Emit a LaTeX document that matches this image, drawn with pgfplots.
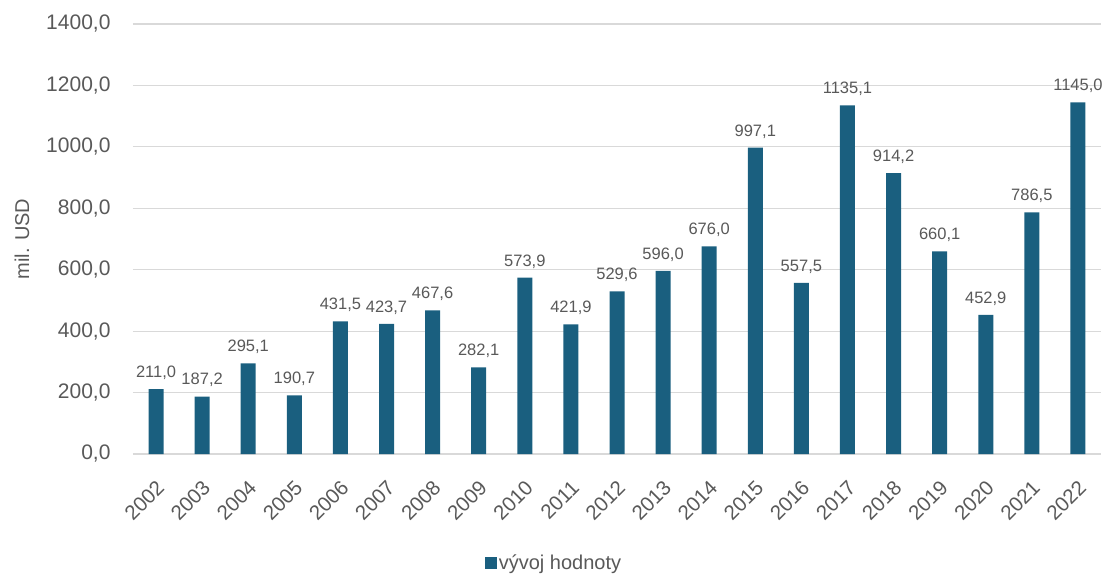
\documentclass[border=0pt]{standalone}
\usepackage{pgfplots}
\pgfplotsset{compat=1.18}
\usepackage{fontspec}
\setmainfont{Liberation Sans}
\definecolor{barc}{HTML}{1A5F7F}
\definecolor{txt}{HTML}{595959}
\definecolor{grd}{HTML}{D9D9D9}
\begin{document}
\begin{tikzpicture}
\useasboundingbox (0,0) rectangle (1106pt,574pt);
\begin{axis}[
  at={(133pt,120pt)}, anchor=south west,
  scale only axis, width=968pt, height=430pt,
  ymin=0, ymax=1400, ytick={0,200,...,1400},
  xmin=-0.5, xmax=20.5,
  xtick={0,...,20},
  xticklabels={2002,2003,2004,2005,2006,2007,2008,2009,2010,2011,2012,2013,2014,2015,2016,2017,2018,2019,2020,2021,2022},
  x tick label style={rotate=45, anchor=north east, font=\fontsize{20.5}{22}\selectfont, text=txt, inner sep=1pt, yshift=-16pt, xshift=-17pt},
  /pgf/number format/use comma,
  /pgf/number format/fixed,
  /pgf/number format/fixed zerofill,
  /pgf/number format/precision=1,
  /pgf/number format/1000 sep={},
  /pgf/number format/assume math mode=true,
  y tick label style={font=\fontsize{21}{23}\selectfont, text=txt, xshift=-19pt},
  axis line style={draw=none},
  major tick length=0pt,
  ymajorgrids, grid style={grd, line width=1.2pt},
  ybar, bar width=15pt,
  ylabel={mil. USD},
  every axis y label/.style={at={(-111pt,215pt)}, rotate=90, anchor=center, font=\fontsize{20}{22}\selectfont, text=txt},
  nodes near coords,
  nodes near coords style={font=\fontsize{16.5}{18}\selectfont, text=txt},
  every node near coord/.append style={yshift=6pt},
  legend style={at={(421pt,-109pt)}, anchor=center, draw=none, font=\fontsize{20}{22}\selectfont, text=txt},
  legend image code/.code={\fill[barc] (0pt,-6pt) rectangle (12pt,6pt);},
]
\addplot[fill=barc, draw=none] coordinates {
(0,211.0) (1,187.2) (2,295.1) (3,190.7) (4,431.5) (5,423.7) (6,467.6) (7,282.1) (8,573.9) (9,421.9) (10,529.6) (11,596.0) (12,676.0) (13,997.1) (14,557.5) (15,1135.1) (16,914.2) (17,660.1) (18,452.9) (19,786.5) (20,1145.0)
};
\addlegendentry{vývoj hodnoty}
\end{axis}
\end{tikzpicture}
\end{document}
